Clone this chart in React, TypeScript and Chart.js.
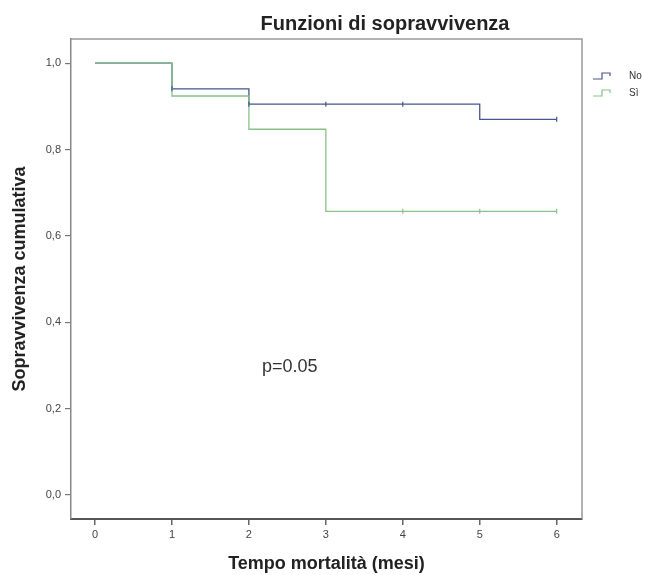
import React, { useEffect, useRef } from "react";
import { Chart, registerables } from "chart.js";

Chart.register(...registerables);

// ---- text ----
const chartTitle = "Funzioni di sopravvivenza";
const xTitle = "Tempo mortalità (mesi)";
const yTitle = "Sopravvivenza cumulativa";
const pValueText = "p=0.05";
const groupLabels = ["No", "Sì"];

// ---- ticks ----
const xTicks = [0, 1, 2, 3, 4, 5, 6];
const yTicks = [0, 0.2, 0.4, 0.6, 0.8, 1.0];

// ---- series: Kaplan-Meier steps (time of change, survival after change) ----
const noTimes = [0, 1, 2, 5, 6];
const noSurv = [1, 0.9405, 0.905, 0.87, 0.87];
const noCensored = [1, 2, 3, 4, 6];

const siTimes = [0, 1, 2, 3, 6];
const siSurv = [1, 0.924, 0.847, 0.657, 0.657];
const siCensored = [4, 5, 6];

// annotation position (data units)
const pValueX = 2.17;
const pValueY = 0.2965;

const colorNo = "#44578a";
const colorSi = "#88c288";
const FONT = "'Liberation Sans', Arial, sans-serif";

function survAt(times: number[], surv: number[], t: number) {
  let v = surv[0];
  for (let i = 0; i < times.length; i++) if (times[i] <= t) v = surv[i];
  return v;
}

const decorPlugin = {
  id: "decor",
  afterDraw(chart: any) {
    const { ctx, chartArea: a, scales } = chart;
    ctx.save();
    // top and right frame
    ctx.strokeStyle = "#999";
    ctx.lineWidth = 1.5;
    ctx.beginPath();
    ctx.moveTo(a.left, a.top);
    ctx.lineTo(a.right, a.top);
    ctx.lineTo(a.right, a.bottom);
    ctx.stroke();

    // title
    ctx.fillStyle = "#222";
    ctx.font = "bold 20px " + FONT;
    ctx.textAlign = "center";
    ctx.textBaseline = "middle";
    ctx.fillText(chartTitle, 385, 24);

    // p value
    ctx.font = "18px " + FONT;
    ctx.fillStyle = "#333";
    ctx.textAlign = "left";
    ctx.fillText(pValueText, scales.x.getPixelForValue(pValueX), scales.y.getPixelForValue(pValueY));

    // legend
    const rows = [
      { label: chart.data.datasets[0].label, color: colorNo, y: 76 },
      { label: chart.data.datasets[1].label, color: colorSi, y: 93 },
    ];
    const x0 = 593;
    rows.forEach((r) => {
      ctx.strokeStyle = r.color;
      ctx.lineWidth = 1.2;
      ctx.beginPath();
      ctx.moveTo(x0, r.y + 3);
      ctx.lineTo(x0 + 9, r.y + 3);
      ctx.lineTo(x0 + 9, r.y - 3);
      ctx.lineTo(x0 + 17, r.y - 3);
      ctx.lineTo(x0 + 17, r.y);
      ctx.stroke();
      ctx.fillStyle = "#333";
      ctx.font = "10px " + FONT;
      ctx.textAlign = "left";
      ctx.textBaseline = "middle";
      ctx.fillText(r.label, 629, r.y);
    });
    ctx.restore();
  },
};

export default function App() {
  const ref = useRef<HTMLCanvasElement | null>(null);

  useEffect(() => {
    if (!ref.current) return;
    const line = (times: number[], surv: number[]) => times.map((t, i) => ({ x: t, y: surv[i] }));
    const cens = (c: number[], times: number[], surv: number[]) =>
      c.map((t) => ({ x: t, y: survAt(times, surv, t) }));

    const chart = new Chart(ref.current, {
      type: "line",
      data: {
        datasets: [
          {
            label: groupLabels[0],
            data: line(noTimes, noSurv),
            borderColor: colorNo,
            borderWidth: 1.3,
            stepped: true,
            pointRadius: 0,
            fill: false,
            order: 2,
          },
          {
            label: groupLabels[1],
            data: line(siTimes, siSurv),
            borderColor: colorSi,
            borderWidth: 1.3,
            stepped: true,
            pointRadius: 0,
            fill: false,
            order: 1,
          },
          {
            label: groupLabels[0] + " censurato",
            data: cens(noCensored, noTimes, noSurv),
            showLine: false,
            pointStyle: "line",
            rotation: 90,
            pointRadius: 2.5,
            borderColor: colorNo,
            borderWidth: 1.2,
            order: 0,
          },
          {
            label: groupLabels[1] + " censurato",
            data: cens(siCensored, siTimes, siSurv),
            showLine: false,
            pointStyle: "line",
            rotation: 90,
            pointRadius: 2.5,
            borderColor: colorSi,
            borderWidth: 1.2,
            order: 0,
          },
        ],
      },
      options: {
        animation: false,
        responsive: false,
        layout: { padding: { top: 39, right: 68, left: 0, bottom: 0 } },
        plugins: {
          legend: { display: false },
          title: { display: false },
          tooltip: { enabled: false },
        },
        scales: {
          x: {
            type: "linear",
            min: -0.312,
            max: 6.329,
            afterBuildTicks: (s: any) => {
              s.ticks = xTicks.map((v) => ({ value: v }));
            },
            afterFit: (s: any) => {
              s.height = 56;
            },
            ticks: {
              color: "#444",
              font: { size: 11, family: FONT },
              padding: 3,
              callback: (v: any) => String(v),
            },
            grid: { drawOnChartArea: false, drawTicks: true, tickLength: 6, color: "#666", lineWidth: 1.5 },
            border: { color: "#555", width: 2 },
            title: {
              display: true,
              text: xTitle,
              color: "#222",
              font: { size: 18, weight: "bold", family: FONT },
              padding: { top: 0, bottom: 0 },
            },
          },
          y: {
            type: "linear",
            min: -0.0556,
            max: 1.056,
            afterBuildTicks: (s: any) => {
              s.ticks = yTicks.map((v) => ({ value: v }));
            },
            afterFit: (s: any) => {
              s.width = 71;
            },
            ticks: {
              color: "#444",
              font: { size: 11, family: FONT },
              padding: 4,
              callback: (v: any) => Number(v).toFixed(1).replace(".", ","),
            },
            grid: { drawOnChartArea: false, drawTicks: true, tickLength: 6, color: "#777", lineWidth: 1.2 },
            border: { color: "#888", width: 1.5 },
            title: {
              display: true,
              text: yTitle,
              color: "#222",
              font: { size: 18, weight: "bold", family: FONT },
              padding: { top: 9, bottom: 0 },
            },
          },
        },
      },
      plugins: [decorPlugin],
    } as any);

    return () => chart.destroy();
  }, []);

  return (
    <div style={{ position: "absolute", left: 0, top: 0, width: 650, height: 575, background: "#fff" }}>
      <canvas ref={ref} width={650} height={575} />
    </div>
  );
}
